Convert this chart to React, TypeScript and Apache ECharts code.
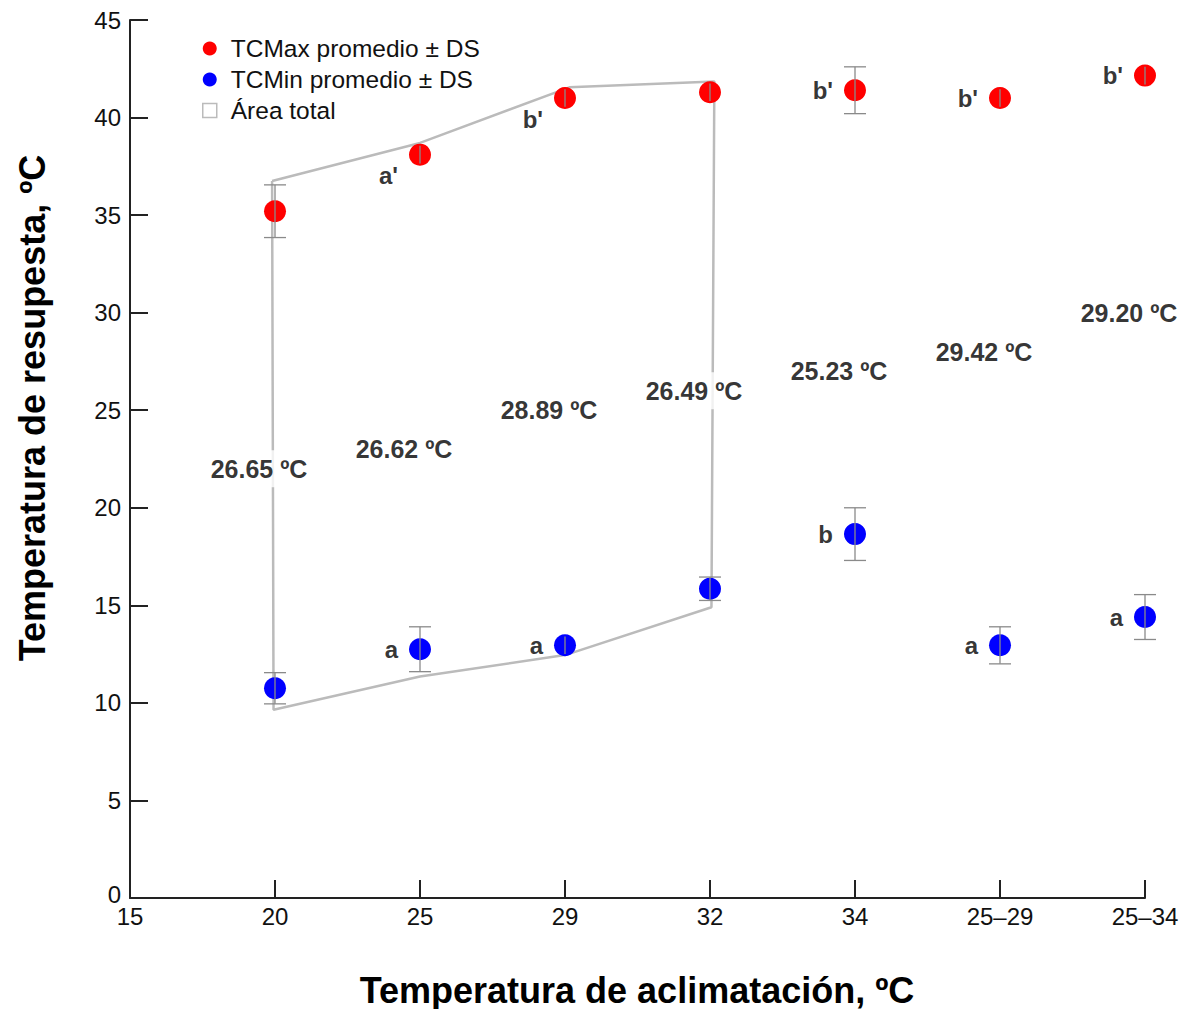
import React, { useEffect, useRef } from "react";
import * as echarts from "echarts";

const categories = ["15", "20", "25", "29", "32", "34", "25–29", "25–34"];
// x index (position of category) for each treatment
const treatX = [1, 2, 3, 4, 5, 6, 7];
const maxMean = [35.2, 38.1, 41.0, 41.3, 41.4, 41.0, 42.15];
const maxSD = [1.35, 0.45, 0.45, 0.45, 1.2, 0.45, 0.45];
const minMean = [10.75, 12.75, 12.95, 15.85, 18.65, 12.95, 14.4];
const minSD = [0.8, 1.15, 0.45, 0.6, 1.35, 0.95, 1.15];
const maxLetters = ["", "a'", "b'", "", "b'", "b'", "b'"];
const maxLetterBelow = [false, true, true, false, false, false, false];
const minLetters = ["", "a", "a", "", "b", "a", "a"];
const areaLabels = ["26.65 ºC", "26.62 ºC", "28.89 ºC", "26.49 ºC", "25.23 ºC", "29.42 ºC", "29.20 ºC"];
const areaLabelY = [22, 23, 25, 26, 27, 28, 30];
const polyX = [0.98, 2, 3.03, 4.03, 4.01, 3, 2, 0.99, 0.98];
const polyY = [36.75, 38.7, 41.55, 41.85, 14.9, 12.45, 11.35, 9.65, 36.75];
const yTicks = [0, 5, 10, 15, 20, 25, 30, 35, 40, 45];
const xTitle = "Temperatura de aclimatación, ºC";
const yTitle = "Temperatura de resupesta, ºC";

const FONT = "Liberation Sans, Arial, Helvetica, sans-serif";

export default function App() {
  const ref = useRef<HTMLDivElement>(null);
  useEffect(() => {
    if (!ref.current) return;
    document.body.style.margin = "0";
    document.body.style.overflow = "hidden";
    const chart = echarts.init(ref.current, null, { renderer: "svg" });

    const errRender = (params: any, api: any) => {
      const x = api.value(0);
      const lo = api.coord([x, api.value(1)]);
      const hi = api.coord([x, api.value(2)]);
      // caps that would sit inside the marker are hidden, as in the source
      const w = Math.abs(lo[1] - hi[1]) > 22 ? 11 : 0;
      const st = { stroke: "#8a8a8a", lineWidth: 1.3 };
      return {
        type: "group",
        children: [
          { type: "line", shape: { x1: lo[0], y1: lo[1], x2: hi[0], y2: hi[1] }, style: st },
          { type: "line", shape: { x1: lo[0] - w, y1: lo[1], x2: lo[0] + w, y2: lo[1] }, style: st },
          { type: "line", shape: { x1: hi[0] - w, y1: hi[1], x2: hi[0] + w, y2: hi[1] }, style: st },
        ],
      };
    };

    const letterLabel = {
      show: true,
      position: "left",
      distance: 11,
      color: "#000",
      fontWeight: "bold",
      fontSize: 24,
      fontFamily: FONT,
    };

    const maxLetterData = treatX.map((x, i) => ({
      value: [x, maxMean[i]],
      label: {
        formatter: maxLetters[i],
        ...(maxLetterBelow[i] ? { offset: [0, 21] } : {}),
      },
    }));
    const minLetterData = treatX.map((x, i) => ({
      value: [x, minMean[i]],
      label: { formatter: minLetters[i] },
    }));

    chart.setOption({
      animation: false,
      textStyle: { fontFamily: FONT },
      grid: { left: 130, right: 40, top: 20, bottom: 111, containLabel: false, outerBoundsMode: "none" },
      legend: {
        orient: "vertical",
        left: 202,
        top: 36,
        padding: 0,
        itemGap: 6,
        itemWidth: 14,
        itemHeight: 14,
        textStyle: { fontSize: 24.5, color: "#111", fontFamily: FONT, padding: [0, 0, 0, 9] },
        data: [
          { name: "TCMax promedio ± DS", icon: "circle", itemStyle: { color: "#ff0000" } },
          { name: "TCMin promedio ± DS", icon: "circle", itemStyle: { color: "#0000ff" } },
          {
            name: "Área total",
            icon: "rect",
            itemStyle: { color: "#ffffff", borderColor: "#bbbbbb", borderWidth: 1.5 },
          },
        ],
      },
      graphic: [
        {
          type: "text",
          x: 32,
          y: 408,
          rotation: Math.PI / 2,
          style: {
            text: yTitle,
            fontSize: 36,
            fontWeight: "bold",
            fontFamily: FONT,
            fill: "#000",
            textAlign: "center",
            textVerticalAlign: "middle",
          },
        },
        {
          type: "text",
          x: 637,
          y: 990,
          style: {
            text: xTitle,
            fontSize: 36,
            fontWeight: "bold",
            fontFamily: FONT,
            fill: "#000",
            textAlign: "center",
            textVerticalAlign: "middle",
          },
        },
      ],
      xAxis: {
        type: "value",
        min: 0,
        max: 7,
        interval: 1,
        axisLine: { lineStyle: { color: "#222", width: 2 } },
        axisTick: { inside: true, length: 18, lineStyle: { color: "#222", width: 2 } },
        axisLabel: {
          fontSize: 24,
          color: "#111",
          margin: 6,
          formatter: (v: number) => categories[Math.round(v)] ?? "",
        },
        splitLine: { show: false },
      },
      yAxis: {
        type: "value",
        min: yTicks[0],
        max: yTicks[yTicks.length - 1],
        interval: 5,
        axisLine: { show: true, lineStyle: { color: "#222", width: 2 } },
        axisTick: { show: true, inside: true, length: 18, lineStyle: { color: "#222", width: 2 } },
        axisLabel: {
          fontSize: 24,
          color: "#111",
          margin: 9,
          formatter: (v: number) => (v === 0 ? "{z|0}" : String(v)),
          rich: { z: { fontSize: 24, color: "#111", padding: [0, 0, 8, 0] } },
        },
        splitLine: { show: false },
      },
      series: [
        {
          name: "Área total",
          type: "line",
          data: polyX.map((x, i) => [x, polyY[i]]),
          symbol: "none",
          lineStyle: { color: "#bbbbbb", width: 2.5 },
          itemStyle: { color: "#ffffff", borderColor: "#bbbbbb" },
          z: 1,
        },
        {
          name: "areaLabels",
          type: "scatter",
          symbolSize: 0,
          data: treatX.map((x, i) => ({ value: [x, areaLabelY[i]], label: { formatter: areaLabels[i] } })),
          label: {
            show: true,
            position: "inside",
            offset: [-16, 0],
            backgroundColor: "#ffffff",
            padding: [6, 4],
            color: "#000",
            fontSize: 25,
            fontWeight: "bold",
            fontFamily: FONT,
          },
          silent: true,
          z: 3,
        },
        {
          name: "TCMax promedio ± DS",
          type: "scatter",
          symbol: "circle",
          symbolSize: 22,
          itemStyle: { color: "#ff0000", opacity: 1 },
          data: treatX.map((x, i) => [x, maxMean[i]]),
          z: 4,
        },
        {
          name: "TCMin promedio ± DS",
          type: "scatter",
          symbol: "circle",
          symbolSize: 22,
          itemStyle: { color: "#0000ff", opacity: 1 },
          data: treatX.map((x, i) => [x, minMean[i]]),
          z: 4,
        },
        {
          name: "errMax",
          type: "custom",
          renderItem: errRender,
          data: treatX.map((x, i) => [x, maxMean[i] - maxSD[i], maxMean[i] + maxSD[i]]),
          encode: { x: 0, y: [1, 2] },
          silent: true,
          z: 5,
        },
        {
          name: "errMin",
          type: "custom",
          renderItem: errRender,
          data: treatX.map((x, i) => [x, minMean[i] - minSD[i], minMean[i] + minSD[i]]),
          encode: { x: 0, y: [1, 2] },
          silent: true,
          z: 5,
        },
        {
          name: "maxLetters",
          type: "scatter",
          symbolSize: 22,
          itemStyle: { color: "transparent" },
          label: letterLabel,
          data: maxLetterData,
          silent: true,
          z: 6,
        },
        {
          name: "minLetters",
          type: "scatter",
          symbolSize: 22,
          itemStyle: { color: "transparent" },
          label: letterLabel,
          data: minLetterData,
          silent: true,
          z: 6,
        },
      ],
    });
    return () => chart.dispose();
  }, []);
  return <div ref={ref} style={{ width: 1185, height: 1009 }} />;
}
